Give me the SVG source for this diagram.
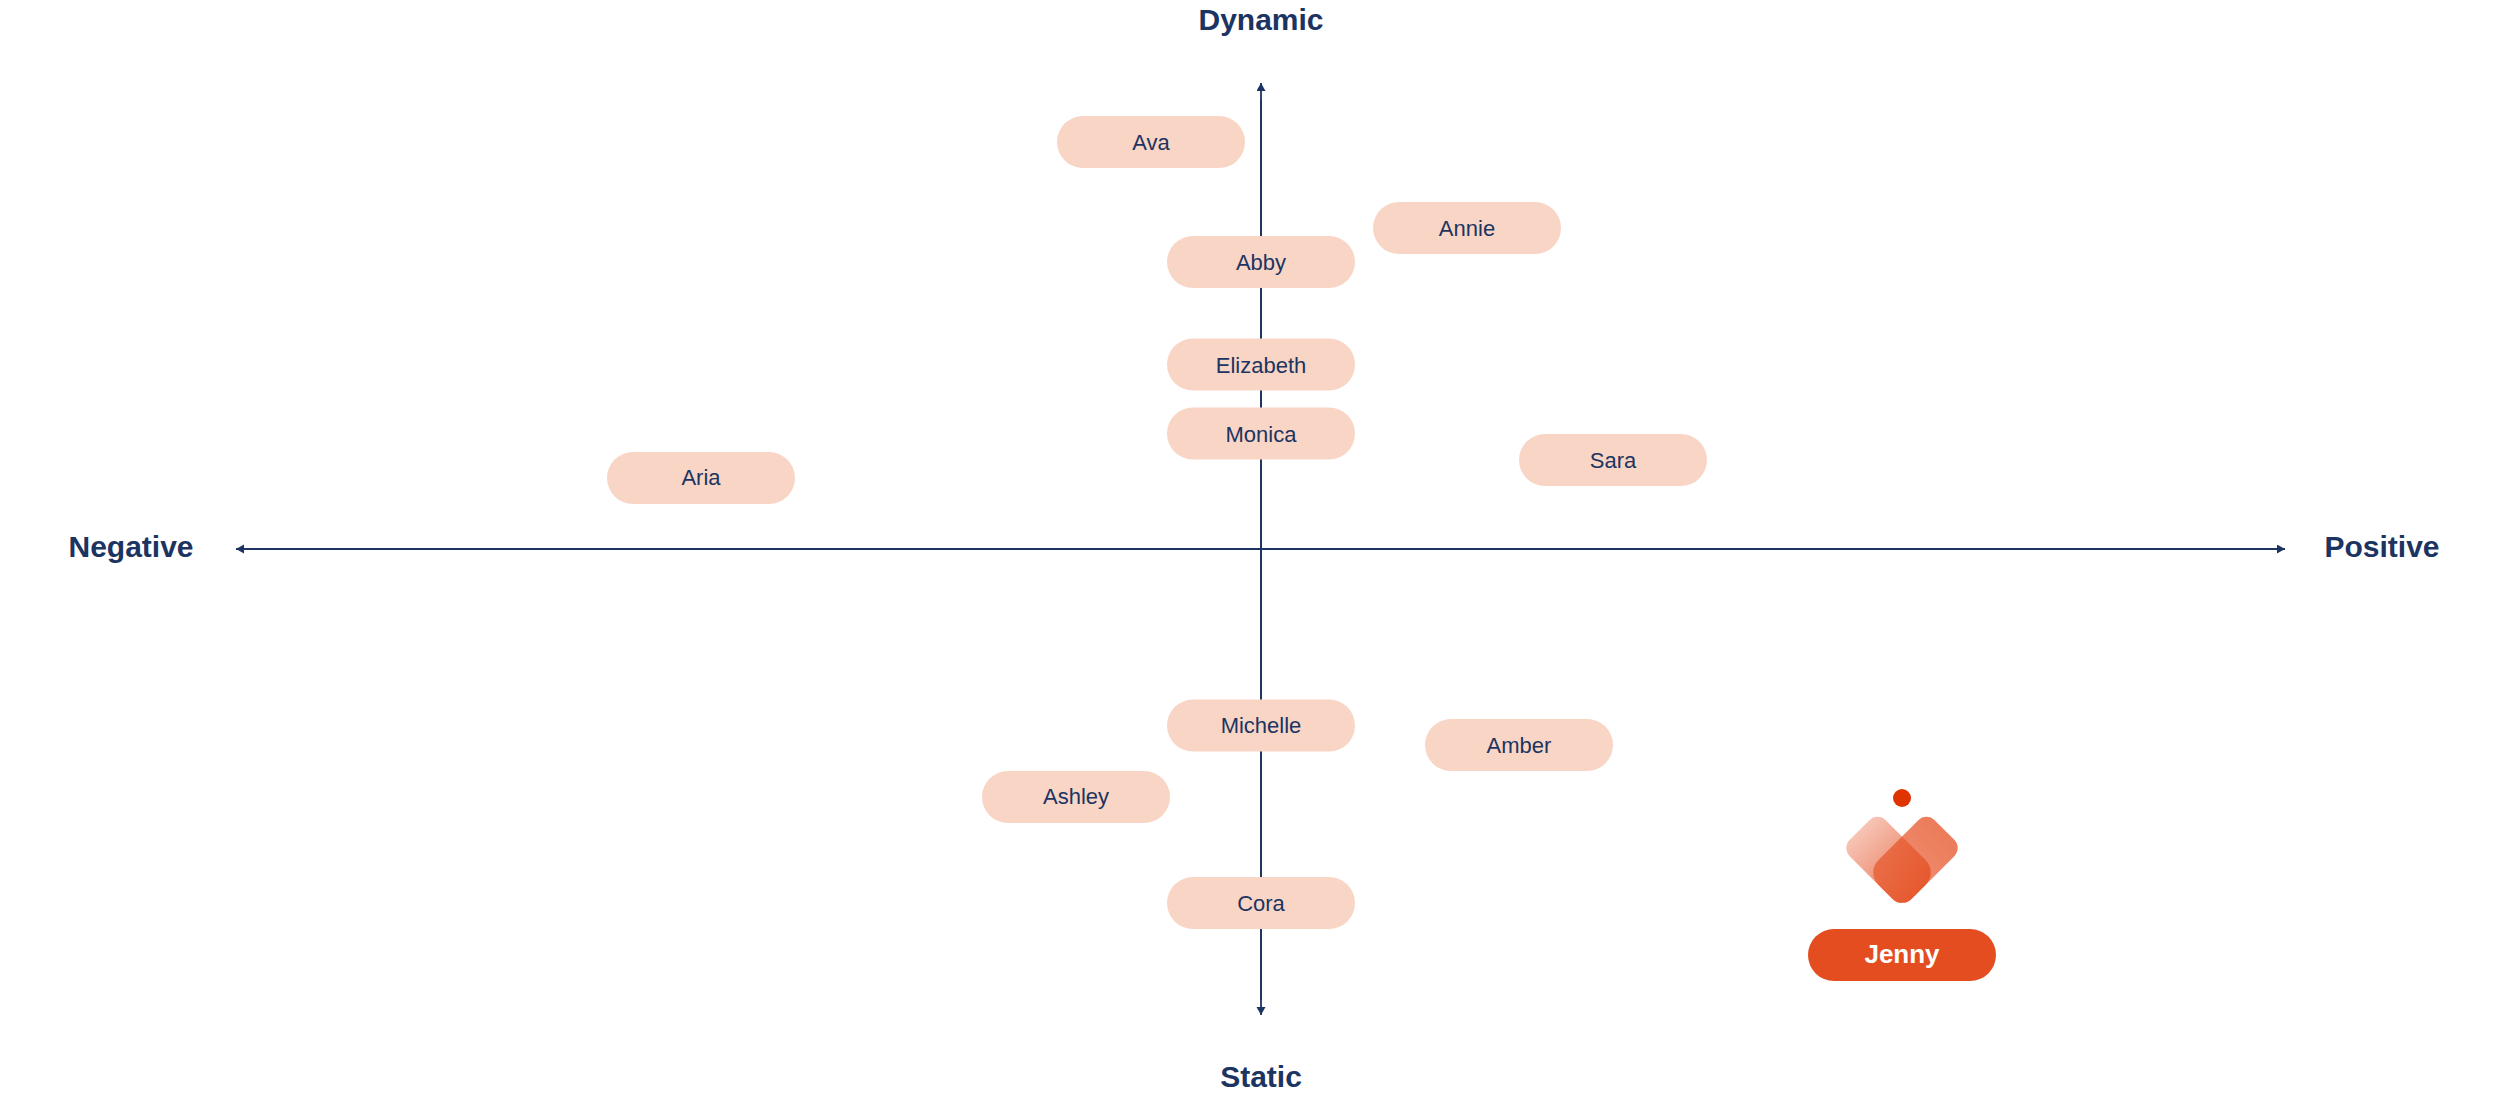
<svg xmlns="http://www.w3.org/2000/svg" width="2500" height="1093" viewBox="0 0 2500 1093">
<style>
text{font-family:"Liberation Sans",Arial,sans-serif;text-anchor:middle}
.pill{fill:#f9d5c6}
.name{font-size:22px;fill:#1c3461}
.axis{font-size:30px;font-weight:700;fill:#1c3461}
.line{stroke:#1c3461;stroke-width:1.8;fill:none;marker-end:url(#arrow)}
</style>
<defs>
<marker id="arrow" markerUnits="userSpaceOnUse" markerWidth="10" markerHeight="10" refX="8" refY="4.5" orient="auto"><path d="M0 0L8 4.5L0 9Z" fill="#1c3461"/></marker>
<linearGradient id="gl" x1="0" y1="0" x2="1" y2="0"><stop offset="0" stop-color="#e54d1f" stop-opacity=".33"/><stop offset="1" stop-color="#e2481a" stop-opacity=".78"/></linearGradient>
<linearGradient id="gr" x1="0" y1="0" x2="1" y2="0"><stop offset="0" stop-color="#e54d1f" stop-opacity=".74"/><stop offset="1" stop-color="#e54d1f" stop-opacity=".6"/></linearGradient>
<path id="lobe" d="M-32.500 -26.500H26.500A18 18 0 0 1 44.500 -8.500V12.500A14 14 0 0 1 30.500 26.500H-32.500A12 12 0 0 1 -44.500 14.500V-14.500A12 12 0 0 1 -32.500 -26.500Z"/>
</defs>
<rect width="2500" height="1093" fill="#fff"/>
<g id="connectors">
<line class="line" x1="1261" y1="1000" x2="1261" y2="83"/>
<line class="line" x1="1261" y1="100" x2="1261" y2="1015"/>
<line class="line" x1="300" y1="549" x2="236" y2="549"/>
<line class="line" x1="240" y1="549" x2="2285" y2="549"/>
</g>
<text class="axis" x="1261" y="30">Dynamic</text>
<text class="axis" x="1261" y="1087">Static</text>
<text class="axis" x="131" y="557">Negative</text>
<text class="axis" x="2382" y="557">Positive</text>
<g id="ava"><rect class="pill" x="1057" y="116" width="188" height="52" rx="26"/><text class="name" x="1151" y="150">Ava</text></g>
<g id="annie"><rect class="pill" x="1373" y="202" width="188" height="52" rx="26"/><text class="name" x="1467" y="236">Annie</text></g>
<g id="abby"><rect class="pill" x="1167" y="236" width="188" height="52" rx="26"/><text class="name" x="1261" y="270">Abby</text></g>
<g id="elizabeth"><rect class="pill" x="1167" y="338.500" width="188" height="52" rx="26"/><text class="name" x="1261" y="373">Elizabeth</text></g>
<g id="monica"><rect class="pill" x="1167" y="407.500" width="188" height="52" rx="26"/><text class="name" x="1261" y="442">Monica</text></g>
<g id="sara"><rect class="pill" x="1519" y="434" width="188" height="52" rx="26"/><text class="name" x="1613" y="468">Sara</text></g>
<g id="aria"><rect class="pill" x="607" y="452" width="188" height="52" rx="26"/><text class="name" x="701" y="485">Aria</text></g>
<g id="michelle"><rect class="pill" x="1167" y="699.500" width="188" height="52" rx="26"/><text class="name" x="1261" y="733">Michelle</text></g>
<g id="amber"><rect class="pill" x="1425" y="719" width="188" height="52" rx="26"/><text class="name" x="1519" y="753">Amber</text></g>
<g id="ashley"><rect class="pill" x="982" y="771" width="188" height="52" rx="26"/><text class="name" x="1076" y="804">Ashley</text></g>
<g id="cora"><rect class="pill" x="1167" y="877" width="188" height="52" rx="26"/><text class="name" x="1261" y="911">Cora</text></g>
<g id="jenny">
<circle cx="1902" cy="798" r="9" fill="#e03400"/>
<g transform="translate(1902 859.500) scale(.96) translate(-1902 -860)">
<use href="#lobe" fill="url(#gl)" transform="translate(1889.250 860.750) rotate(45)"/>
<use href="#lobe" fill="url(#gr)" transform="translate(1914.750 860.750) scale(-1 1) rotate(45)"/>
</g>
<rect x="1808" y="929" width="188" height="52" rx="26" fill="#e44d1f"/>
<text x="1902" y="963" font-size="26" font-weight="700" fill="#fff">Jenny</text>
</g>
</svg>
